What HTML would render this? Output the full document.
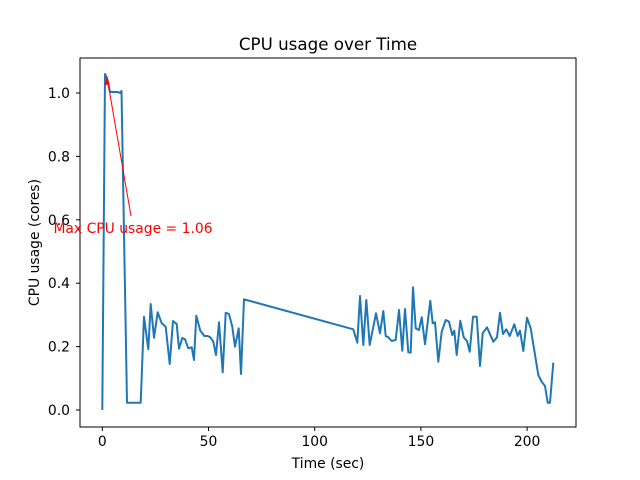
<!DOCTYPE html>
<html><head><meta charset="utf-8"><style>body{margin:0;background:#fff}svg{display:block}text{font-family:"DejaVu Sans","Liberation Sans",sans-serif}</style></head><body>
<svg width="640" height="480" viewBox="0 0 640 480" xmlns="http://www.w3.org/2000/svg">
<rect width="640" height="480" fill="#fff"/>
<polyline fill="none" stroke="#1f77b4" stroke-width="2" stroke-linejoin="round" points="102.3,410 105,74 107,78 110,92 114,92 118,92 120,93 121.5,91 127,402.7 140.7,402.7 144,316.7 148.3,349.3 150.7,304 154,337.7 157.7,312.3 161.7,323.3 165.7,326.7 169.7,364 173,321 176.7,324 179,348.7 182.3,338 185,339.3 188.3,348.3 191.7,347.3 194,360 196.3,315.7 200.3,330.7 204.3,336 207.7,336 210.3,337.3 213.3,341.7 216,355 219,322.3 222.7,372.3 225.7,312.7 229,314 232.3,326.7 235,346.7 238.7,328.3 241,374 244,299.3 353.3,329.3 357.3,342.7 360,296 363.3,345 366.3,300 369.7,345 376,313.3 380,333.3 383.3,311 385.7,336 388.3,337.3 391.7,341 395.7,340 399,310 402.3,350.7 405,309 408.3,352.3 410.7,352.7 413,287.3 415.7,328.3 419,330 421.7,317.3 425,344.3 430.3,300.7 432.7,323.3 435,322.3 438.3,361.7 441.7,331.7 445.7,320 449,321.7 452.3,335 454.3,330.7 456.7,355 460.3,320.7 463.7,337.3 467,341 469.7,351.7 473,316.7 476.7,316.7 480,366 482.7,333.3 487,327.3 493.3,341.7 497,337.3 500,312.7 503,334 506.3,329.3 509.7,336 514.3,324.3 517.7,336 520,330.7 523.3,351 527,317.7 530.7,328.3 538.3,375 541.7,381.7 545,386 547.7,402.7 550,402.7 553.3,362.7"/>
<rect x="80" y="58" width="496" height="369" fill="none" stroke="#000" stroke-width="1"/>
<g stroke="#000" stroke-width="1">
<line x1="102.3" y1="427" x2="102.3" y2="431"/><line x1="208.5" y1="427" x2="208.5" y2="431"/><line x1="314.7" y1="427" x2="314.7" y2="431"/><line x1="420.9" y1="427" x2="420.9" y2="431"/><line x1="527.1" y1="427" x2="527.1" y2="431"/>
<line x1="76" y1="410" x2="80" y2="410"/><line x1="76" y1="346.6" x2="80" y2="346.6"/><line x1="76" y1="283.2" x2="80" y2="283.2"/><line x1="76" y1="219.8" x2="80" y2="219.8"/><line x1="76" y1="156.4" x2="80" y2="156.4"/><line x1="76" y1="93" x2="80" y2="93"/>
</g>
<g font-size="13.9" fill="#000" text-anchor="middle">
<text x="102.3" y="446">0</text><text x="208.5" y="446">50</text><text x="314.7" y="446">100</text><text x="420.9" y="446">150</text><text x="527.1" y="446">200</text>
</g>
<g font-size="13.9" fill="#000" text-anchor="end">
<text x="70" y="415">0.0</text><text x="70" y="351.6">0.2</text><text x="70" y="288.2">0.4</text><text x="70" y="224.8">0.6</text><text x="70" y="161.4">0.8</text><text x="70" y="98">1.0</text>
</g>
<text x="328" y="468" font-size="13.9" text-anchor="middle">Time (sec)</text>
<text x="39" y="242.5" font-size="13.9" text-anchor="middle" transform="rotate(-90 39 242.5)">CPU usage (cores)</text>
<text x="328" y="50" font-size="16.7" text-anchor="middle">CPU usage over Time</text>
<line x1="131" y1="216" x2="107.5" y2="80" stroke="red" stroke-width="1"/>
<polygon points="106.8,76 104.8,85 109.7,84.2" fill="red"/>
<text x="133" y="233" font-size="13.9" fill="red" text-anchor="middle">Max CPU usage = 1.06</text>
</svg>
</body></html>
